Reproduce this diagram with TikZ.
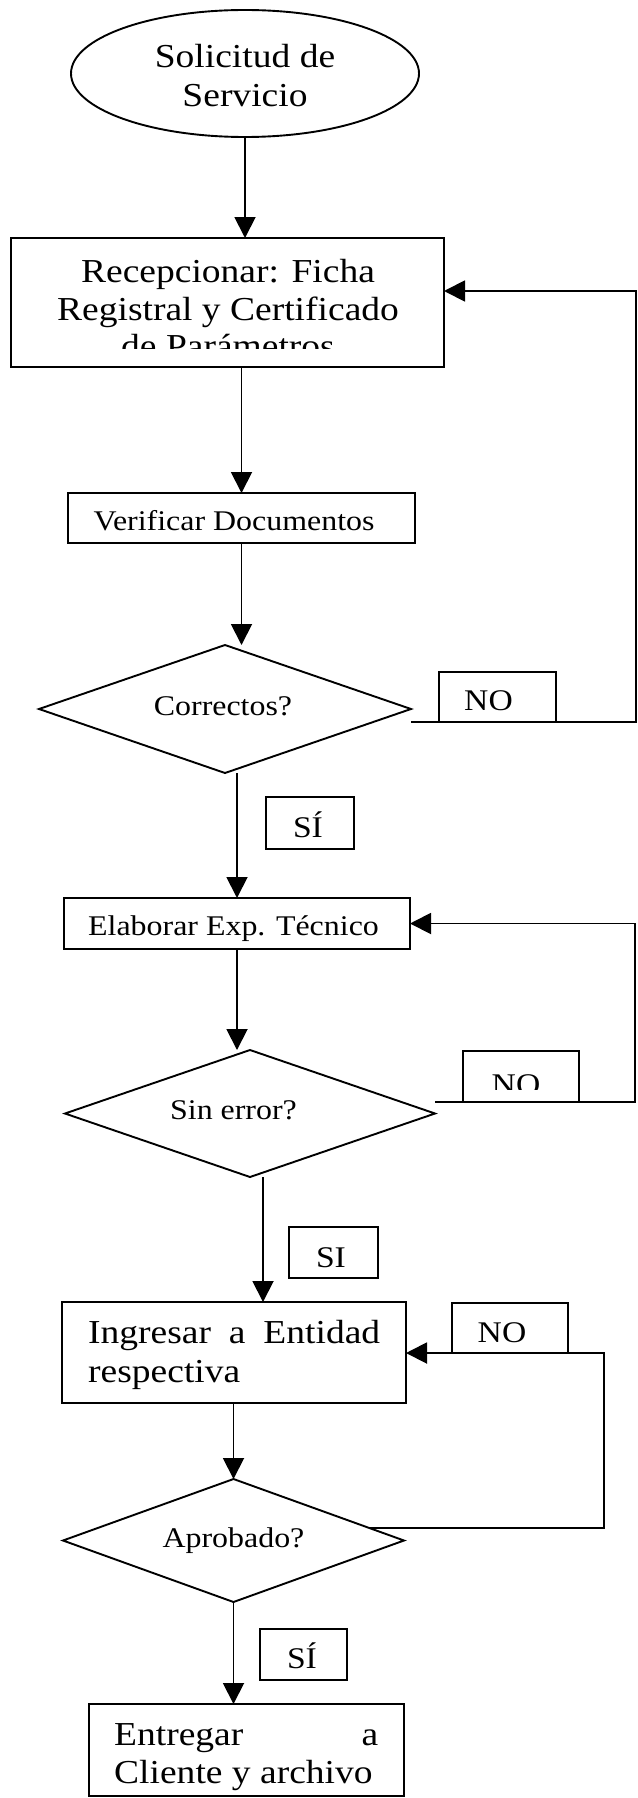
\documentclass[tikz,border=0pt]{standalone}
\usepackage{fontspec}
\setmainfont{Liberation Serif}[FakeStretch=1.12]
\usetikzlibrary{shapes.geometric,arrows.meta,calc}

\tikzset{
  wire/.style={line width=1.9pt, draw=black},
  arr/.style={wire, -{Triangle[length=21pt,width=21pt]}},
  box/.style={wire, rectangle, inner sep=0pt, outer sep=0pt},
  dia/.style={wire, diamond, inner sep=0pt, outer sep=0pt},
  oval/.style={wire, ellipse, inner sep=0pt, outer sep=0pt},
  big/.style={font=\fontsize{33.5}{38}\selectfont, inner sep=0pt, anchor=base},
  mid/.style={font=\fontsize{28.5}{34}\selectfont, inner sep=0pt, anchor=base},
  lab/.style={font=\fontsize{30}{34}\selectfont, inner sep=0pt, anchor=base},
}

\begin{document}
\begin{tikzpicture}[x=1pt, y=-1pt]
\useasboundingbox[fill=white] (0,0) rectangle (637,1798);

% ---- shapes ----
\node[oval, minimum width=348pt, minimum height=127pt] (sol) at (245,73.5) {};
\node[box, minimum width=433pt, minimum height=129pt] (rec) at (227.5,302.5) {};
\node[box, minimum width=347pt, minimum height=50pt] (ver) at (241.5,518) {};
\node[dia, minimum width=372pt, minimum height=128pt] (cor) at (225,709) {};
\node[box, minimum width=117pt, minimum height=50pt] (no1) at (497.5,697) {};
\node[box, minimum width=88pt, minimum height=52pt] (si1) at (310,823) {};
\node[box, minimum width=346pt, minimum height=51pt] (elab) at (237,923.5) {};
\node[dia, minimum width=370pt, minimum height=127pt] (sin) at (250,1113.5) {};
\node[box, minimum width=116pt, minimum height=51pt] (no2) at (521,1076.5) {};
\node[box, minimum width=89pt, minimum height=51pt] (si2) at (333.5,1252.5) {};
\node[box, minimum width=344pt, minimum height=101pt] (ing) at (234,1352.5) {};
\node[box, minimum width=116pt, minimum height=50pt] (no3) at (510,1328) {};
\node[dia, minimum width=341pt, minimum height=123pt] (apr) at (233.5,1540.5) {};
\node[box, minimum width=87pt, minimum height=51pt] (si3) at (303.5,1654.5) {};
\node[box, minimum width=315pt, minimum height=92pt] (ent) at (246.5,1750) {};

% ---- texts ----
\node[big] (solA) at (245,68) {Solicitud de};
\node[big] (solB) at (245,107) {Servicio};

\node[big] (recA) at (228,282) {Recepcionar: Ficha};
\node[big] (recB) at (228,320) {Registral y Certificado};
\begin{scope}
  \clip (0,238) rectangle (637,348);
  \node[big] (recC) at (228,357) {de Parámetros};
\end{scope}

\node[mid] (verT) at (234,530) {Verificar Documentos};
\node[mid] (corT) at (223,715) {Correctos?};
\node[lab] (no1T) at (488.5,710) {NO};
\node[lab] (si1T) at (308,837) {SÍ};
\node[mid] (elabT) at (233.5,935) {Elaborar Exp. Técnico};
\node[mid] (sinT) at (233.5,1119) {Sin error?};
\begin{scope}
  \clip (440,1040) rectangle (600,1089);
  \node[lab] (no2T) at (516,1094) {NO};
\end{scope}
\node[lab] (si2T) at (331,1267) {SI};
\node[big, anchor=base west] (ingA) at (88,1343) {\hbox to 292pt{Ingresar\hfill a\hfill Entidad}};
\node[big, anchor=base west] (ingB) at (88,1382) {respectiva};
\node[lab] (no3T) at (502,1342) {NO};
\node[mid] (aprT) at (233.5,1547) {Aprobado?};
\node[lab] (si3T) at (302,1668) {SÍ};
\node[big, anchor=base west] (entA) at (114,1745) {\hbox to 264pt{Entregar\hfill a}};
\node[big, anchor=base west] (entB) at (114,1783) {Cliente y archivo};

% ---- main flow ----
\draw[arr] (sol.south) -- (sol.south |- rec.north);
\draw[arr] (rec.south -| ver.north) -- (ver.north);
\draw[arr] (ver.south) -- (ver.south |- cor.north);
\draw[arr] (cor.south -| elab.north) -- (elab.north);
\draw[arr] (elab.south) -- (elab.south |- sin.north);
\draw[arr] ([xshift=13pt]sin.south) -- ([xshift=13pt]sin.south |- ing.north);
\draw[arr] (ing.south -| apr.north) -- (apr.north);
\draw[arr] (apr.south) -- (apr.south |- ent.north);

% ---- return loops ----
\coordinate (k1) at (636,722);
\coordinate (k2) at (636,291);
\draw[arr] (cor.east |- no1.south) -- (k1) -- (k2) -- (k2 -| rec.east);

\coordinate (k3) at (635,1102);
\coordinate (k4) at (635,923.5);
\draw[arr] (sin.east |- no2.south) -- (k3) -- (k4) -- (elab.east);

\coordinate (k5) at (604,1528);
\coordinate (k6) at (604,1353);
\coordinate (k0) at ($(apr.east)!0.203!(apr.north)$);
\draw[arr] (k0) -- (k5) -- (k6) -- (k6 -| ing.east);
\end{tikzpicture}
\end{document}
